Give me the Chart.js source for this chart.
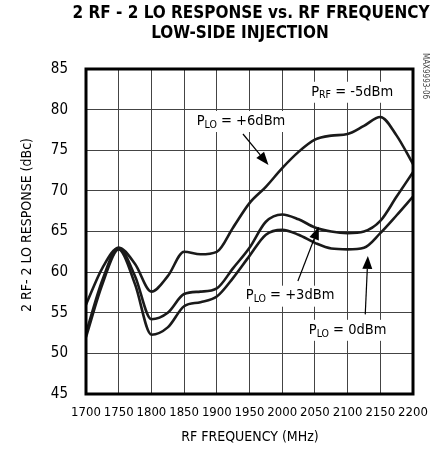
<!DOCTYPE html>
<html><head><meta charset="utf-8">
<script src="https://cdn.jsdelivr.net/npm/chart.js@4/dist/chart.umd.min.js"></script>
<style>html,body{margin:0;padding:0;background:#fff;}canvas{display:block;}</style>
</head><body>
<canvas id="c" width="436" height="455"></canvas>
<script>
const freqs = [1700,1725,1750,1775,1800,1825,1850,1875,1900,1925,1950,1975,2000,2025,2050,2075,2100,2125,2150,2175,2200];
const plo6 = [56,60.5,63,61,57.6,59.5,62.5,62.2,62.5,65.5,68.5,70.5,72.8,74.8,76.3,76.8,77,78,79.1,76.8,73.3];
const plo3 = [52.5,59,63,59.5,54.2,55,57.3,57.6,58,60.5,63,66.2,67.1,66.5,65.5,65,64.8,65,66.3,69.3,72.3];
const plo0 = [52,58.5,62.8,58.5,52.3,53.2,55.8,56.3,57,59.3,62,64.6,65.2,64.6,63.6,62.9,62.8,63,64.8,67,69.3];
const xTicks = [1700,1750,1800,1850,1900,1950,2000,2050,2100,2150,2200];
const yTicks = [45,50,55,60,65,70,75,80,85];
const titleLines = ["2 RF - 2 LO RESPONSE vs. RF FREQUENCY","LOW-SIDE INJECTION"];
const xTitle = "RF FREQUENCY (MHz)";
const yTitle = "2 RF- 2 LO RESPONSE (dBc)";
const sideNote = "MAX9993-06";
const notes = [
  {parts:["P","RF"," = -5dBm"], x:2107, y:82.2, arrow:null},
  {parts:["P","LO"," = +6dBm"], x:1937, y:78.6, arrow:[1940,77.0,1979,73.2]},
  {parts:["P","LO"," = +3dBm"], x:2012, y:57.1, arrow:[2024,58.9,2056,65.6]},
  {parts:["P","LO"," = 0dBm"], x:2100, y:52.9, arrow:[2127,54.8,2131,62.0]}
];

const FONT = "'Liberation Sans Narrow','DejaVu Sans Condensed',sans-serif";
function toPts(ys){ return freqs.map((f,i)=>({x:f,y:ys[i]})); }

const decor = {
  id:'decor',
  afterDraw(chart){
    const ctx = chart.ctx, xs = chart.scales.x, ys = chart.scales.y, ca = chart.chartArea;
    ctx.save();
    ctx.strokeStyle = '#000'; ctx.lineWidth = 3;
    ctx.strokeRect(ca.left, ca.top, ca.right-ca.left, ca.bottom-ca.top);
    ctx.fillStyle = '#000';
    ctx.textAlign = 'center'; ctx.textBaseline = 'middle';
    ctx.font = "bold 17px " + FONT;
    ctx.fillText(titleLines[0], 251, 14);
    ctx.fillText(titleLines[1], 240, 34);
    ctx.font = "14px " + FONT;
    ctx.fillText(xTitle, 250, 437);
    ctx.save();
    ctx.translate(27, 225); ctx.rotate(-Math.PI/2);
    ctx.fillText(yTitle, 0, 0);
    ctx.restore();
    ctx.save();
    ctx.font = "8px " + FONT; ctx.fillStyle = '#444';
    ctx.translate(425, 76); ctx.rotate(Math.PI/2);
    ctx.fillText(sideNote, 0, 0);
    ctx.restore();
    notes.forEach(n=>{
      const px = xs.getPixelForValue(n.x), py = ys.getPixelForValue(n.y);
      const big = "14.5px " + FONT, small = "10.5px " + FONT;
      ctx.font = big; const w1 = ctx.measureText(n.parts[0]).width;
      ctx.font = small; const w2 = ctx.measureText(n.parts[1]).width;
      ctx.font = big; const w3 = ctx.measureText(n.parts[2]).width;
      const tw = w1 + w2 + w3;
      const x0 = px - tw/2;
      if (n.arrow){
        const ax = xs.getPixelForValue(n.arrow[0]), ay = ys.getPixelForValue(n.arrow[1]);
        const bx = xs.getPixelForValue(n.arrow[2]), by = ys.getPixelForValue(n.arrow[3]);
        const ang = Math.atan2(by-ay, bx-ax);
        const hl = 13, hw = 5;
        ctx.strokeStyle = '#000'; ctx.lineWidth = 1.2;
        ctx.beginPath(); ctx.moveTo(ax, ay);
        ctx.lineTo(bx - Math.cos(ang)*hl, by - Math.sin(ang)*hl); ctx.stroke();
        ctx.fillStyle = '#000';
        ctx.beginPath(); ctx.moveTo(bx, by);
        ctx.lineTo(bx - Math.cos(ang)*hl - Math.sin(ang)*hw, by - Math.sin(ang)*hl + Math.cos(ang)*hw);
        ctx.lineTo(bx - Math.cos(ang)*hl + Math.sin(ang)*hw, by - Math.sin(ang)*hl - Math.cos(ang)*hw);
        ctx.closePath(); ctx.fill();
      }
      ctx.fillStyle = '#fff';
      ctx.fillRect(x0 - 3, py - 10, tw + 6, 21);
      ctx.fillStyle = '#000';
      ctx.textAlign = 'left'; ctx.textBaseline = 'middle';
      ctx.font = big; ctx.fillText(n.parts[0], x0, py);
      ctx.font = small; ctx.fillText(n.parts[1], x0 + w1, py + 4);
      ctx.font = big; ctx.fillText(n.parts[2], x0 + w1 + w2, py);
    });
    ctx.restore();
  }
};

const ds = (d)=>({data:toPts(d), borderColor:'#1a1a1a', borderWidth:2.6, pointRadius:0, fill:false, tension:0.4, cubicInterpolationMode:'monotone'});

new Chart(document.getElementById('c'), {
  type:'line',
  data:{datasets:[ds(plo6), ds(plo3), ds(plo0)]},
  options:{
    responsive:false, animation:false,
    layout:{padding:{left:0, right:23, top:69, bottom:0}},
    plugins:{legend:{display:false}, tooltip:{enabled:false}, title:{display:false}},
    scales:{
      x:{type:'linear', min:1700, max:2200,
         afterBuildTicks(s){ s.ticks = xTicks.map(v=>({value:v})); },
         afterFit(s){ s.height = 61; s.paddingLeft = 0; s.paddingRight = 0; },
         grid:{color:'#444', lineWidth:1, drawTicks:false},
         border:{display:false},
         ticks:{padding:11, color:'#000', maxRotation:0, minRotation:0, autoSkip:false, callback:(v)=>String(v), font:{family:FONT, size:13}}},
      y:{type:'linear', min:45, max:85,
         afterBuildTicks(s){ s.ticks = yTicks.map(v=>({value:v})); },
         afterFit(s){ s.width = 86; s.paddingTop = 0; s.paddingBottom = 0; },
         grid:{color:'#444', lineWidth:1, drawTicks:false},
         border:{display:false},
         ticks:{padding:18, color:'#000', callback:(v)=>String(v), font:{family:FONT, size:15}}}
    }
  },
  plugins:[decor]
});
</script>
</body></html>
